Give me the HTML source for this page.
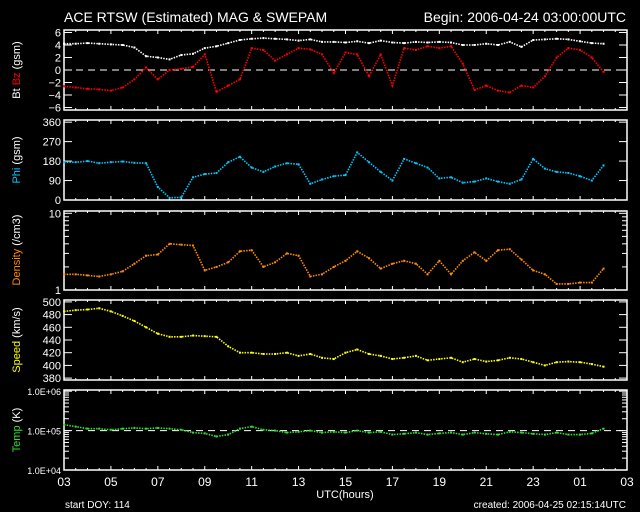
<!DOCTYPE html>
<html><head><meta charset="utf-8"><style>
html,body{margin:0;padding:0;background:#000;}
svg{display:block;font-family:"Liberation Sans",sans-serif;}
</style></head><body>
<svg id="chart" width="640" height="512" viewBox="0 0 640 512" xmlns="http://www.w3.org/2000/svg">
<rect width="640" height="512" fill="#000"/>
<text x="64" y="22" fill="#fff" font-size="14">ACE RTSW (Estimated) MAG &amp; SWEPAM</text>
<text x="626" y="22" fill="#fff" font-size="14" text-anchor="end">Begin: 2006-04-24 03:00:00UTC</text>
<text x="345" y="498" fill="#fff" font-size="11" text-anchor="middle">UTC(hours)</text>
<text x="65" y="508" fill="#fff" font-size="10">start DOY: 114</text>
<text x="626" y="508" fill="#fff" font-size="10" text-anchor="end">created: 2006-04-25 02:15:14UTC</text>
<g id="plots"></g>
</svg>
<script>
const hours = [];
for (let k = 0; k <= 46; k++) hours.push(k * 0.5);
const btValues = [4.2,4.2,4.3,4.2,4.1,4.0,3.6,2.2,2.0,1.7,2.4,2.6,3.5,3.8,4.3,4.8,5.0,5.1,5.0,4.9,4.7,4.9,4.5,4.5,4.4,4.6,4.3,4.7,4.4,4.3,4.5,4.4,4.5,4.4,4.0,4.0,4.2,4.0,4.5,3.7,4.8,4.9,5.0,4.9,4.6,4.3,4.2];
const bzValues = [-2.6,-2.8,-3.0,-3.1,-3.3,-2.8,-1.5,0.4,-1.5,0,0.2,0.5,2.5,-3.5,-2.5,-1.5,3.5,3.2,1.5,2.5,3.5,3.3,2.5,-0.5,2.8,2.5,-1.0,2.5,-2.5,3.5,3.2,3.8,3.5,3.8,1,-3.2,-2.5,-3.3,-3.6,-2.5,-2.8,-1,2,3.5,3.2,2,-0.3];
const phiValues = [175,175,180,170,175,178,172,170,60,10,12,105,120,125,175,200,150,130,155,170,165,75,95,110,115,220,175,130,90,190,170,150,100,105,80,85,100,85,75,95,190,145,130,125,110,90,160];
const densityValues = [1.6,1.6,1.55,1.5,1.6,1.75,2.2,2.8,2.9,4.0,3.9,3.8,1.8,2.0,2.3,3.2,3.3,2.0,2.3,3.0,2.8,1.5,1.6,2.0,2.4,3.2,2.6,1.9,2.2,2.4,2.2,1.6,2.4,1.6,2.4,3.1,2.4,3.3,3.4,2.5,1.8,1.6,1.2,1.2,1.25,1.25,1.9];
const speedValues = [485,487,488,490,485,478,470,460,450,445,445,447,446,445,430,420,420,418,418,420,415,418,412,410,420,425,418,415,410,412,415,408,410,412,405,410,406,408,412,410,405,400,405,406,405,402,398];
const tempValues = [141000,126000,112000,112000,105000,112000,117000,112000,117000,112000,105000,89000,85000,71000,79000,112000,126000,105000,100000,89000,93000,100000,89000,93000,89000,100000,89000,93000,79000,83000,89000,79000,85000,89000,79000,89000,83000,79000,93000,89000,83000,79000,89000,79000,79000,85000,112000];
const xTickLabels = ["03","05","07","09","11","13","15","17","19","21","23","01","03"];
const bzTicks = [6,4,2,0,-2,-4,-6];
const phiTicks = [360,270,180,90,0];
const speedTicks = [500,480,460,440,420,400,380];

const NS = "http://www.w3.org/2000/svg";
const X0 = 64, X1 = 627;
const xScale = h => X0 + (X1 - X0) * h / 24;
const root = document.getElementById('plots');
function mk(tag, attrs, parent) {
  const e = document.createElementNS(NS, tag);
  for (const k in attrs) e.setAttribute(k, attrs[k]);
  (parent || root).appendChild(e);
  return e;
}
function panel(name, top, bot, yfn, ticks, tickLabel, minor, dash) {
  const g = mk('g', {});
  
  
  const fr = mk('rect', {x: X0, y: top, width: X1 - X0, height: bot - top, fill: 'none', stroke: '#fff', 'stroke-width': 1.5}, g);
  
  
  for (let h = 0; h <= 24; h += 0.5) {
    const x = xScale(h), len = (h % 2 === 0) ? 4 : 2;
    mk('line', {x1: x, x2: x, y1: top, y2: top + len, stroke: '#fff'}, g);
    mk('line', {x1: x, x2: x, y1: bot, y2: bot - len, stroke: '#fff'}, g);
  }
  ticks.forEach((t, i) => {
    const y = yfn(t);
    mk('line', {x1: X0, x2: X0 + 8, y1: y, y2: y, stroke: '#fff'}, g);
    mk('line', {x1: X1, x2: X1 - 8, y1: y, y2: y, stroke: '#fff'}, g);
    const tx = mk('text', {x: X0 - 3, y: y + 4, fill: '#fff', 'font-size': tickLabel.size || 11, 'text-anchor': 'end'}, g);
    
    
    tx.textContent = tickLabel.fmt(t);
  });
  (minor || []).forEach(v => {
    const y = yfn(v);
    mk('line', {x1: X0, x2: X0 + 5, y1: y, y2: y, stroke: '#fff'}, g);
    mk('line', {x1: X1, x2: X1 - 5, y1: y, y2: y, stroke: '#fff'}, g);
  });
  if (dash !== undefined) {
    const y = yfn(dash);
    mk('line', {x1: X0, x2: X1, y1: y, y2: y, stroke: '#fff', 'stroke-dasharray': '7 5'}, g);
  }
  return g;
}
function series(g, name, vals, yfn, color) {
  const pts = vals.map((v, i) => xScale(hours[i]).toFixed(1) + ',' + yfn(v).toFixed(1)).join(' ');
  const pl = mk('polyline', {points: pts, fill: 'none', stroke: color, 'stroke-width': 1.6, 'stroke-dasharray': '1.5 1.2'}, g);
  
  
  vals.forEach((v, i) => {
    const r = mk('rect', {x: xScale(hours[i]) - 1, y: yfn(v) - 1, width: 2, height: 2, fill: color}, g);
    
    
  });
}
function lin(top, bot, lo, hi) { return v => bot - (v - lo) / (hi - lo) * (bot - top); }
function lg(top, bot, lo, hi) { return v => bot - (Math.log10(v) - lo) / (hi - lo) * (bot - top); }
function ylabel(name, y, parts) {
  const t = mk('text', {transform: 'translate(20,' + y + ') rotate(-90)', 'font-size': 11, 'text-anchor': 'middle'});
  
  
  parts.forEach(p => { const s = mk('tspan', {fill: p[1]}, t); s.textContent = p[0]; });
}

// Panel 1: Bt/Bz
const y1 = lin(30, 110, -6.4, 6.4);
const g1 = panel('bt-bz', 30, 110, y1, bzTicks, {fmt: v => v < 0 ? '\u2212' + (-v) : '' + v}, [], 0);
series(g1, 'bt', btValues, y1, '#ffffff');
series(g1, 'bz', bzValues, y1, '#ff0000');
ylabel('bt-bz-axis-title', 70, [['Bt ', '#fff'], ['Bz', '#ff0000'], [' (gsm)', '#fff']]);

// Panel 2: Phi
const y2 = lin(120, 200, 0, 370);
const g2 = panel('phi', 120, 200, y2, phiTicks, {fmt: v => '' + v}, []);
series(g2, 'phi', phiValues, y2, '#00c8ff');
ylabel('phi-axis-title', 160, [['Phi', '#00c8ff'], [' (gsm)', '#fff']]);

// Panel 3: Density
const y3 = lg(211, 290, 0, 1.03);
const dMinor = [2,3,4,5,6,7,8,9];
const g3 = panel('density', 211, 290, y3, [10, 1], {fmt: v => '' + v}, dMinor);
series(g3, 'density', densityValues, y3, '#ff8c00');
ylabel('density-axis-title', 250, [['Density', '#ff8c00'], [' (/cm3)', '#fff']]);

// Panel 4: Speed
const y4 = lin(300, 380, 377, 503);
const g4 = panel('speed', 300, 380, y4, speedTicks, {fmt: v => '' + v}, []);
series(g4, 'speed', speedValues, y4, '#ffff00');
ylabel('speed-axis-title', 340, [['Speed', '#ffff00'], [' (km/s)', '#fff']]);

// Panel 5: Temp
const y5 = lg(390, 470, 4, 6.03);
const tMinor = [];
[1e4, 1e5].forEach(b => { for (let m = 2; m <= 9; m++) tMinor.push(b * m); });
const g5 = panel('temp', 390, 470, y5, [1e6, 1e5, 1e4], {fmt: v => '1.0E+0' + Math.round(Math.log10(v)), size: 9}, tMinor, 1e5);
series(g5, 'temp', tempValues, y5, '#30e030');
ylabel('temp-axis-title', 430, [['Temp', '#30e030'], [' (K)', '#fff']]);

// X tick labels
xTickLabels.forEach((lab, i) => {
  const t = mk('text', {x: xScale(i * 2), y: 486, fill: '#fff', 'font-size': 12, 'text-anchor': 'middle'});
  
  
  t.textContent = lab;
});
</script>
</body></html>
